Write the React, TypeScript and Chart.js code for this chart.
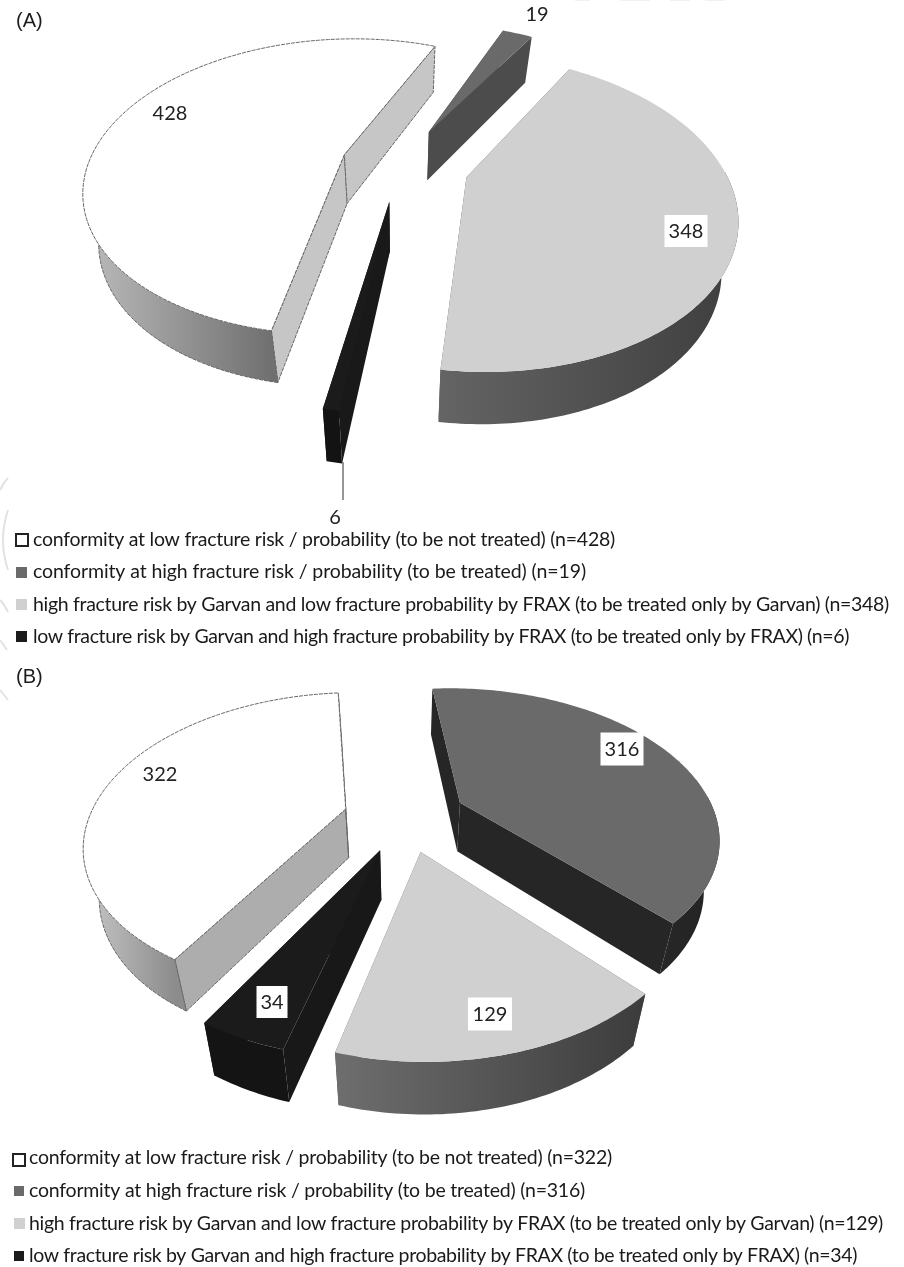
import React, { useEffect, useRef } from "react";
import { Chart, registerables } from "chart.js";

Chart.register(...registerables);

// Categories and counts for the two cohorts
const categoryNames = [
  "conformity at low fracture risk / probability (to be not treated)",
  "conformity at high fracture risk / probability (to be treated)",
  "high fracture risk by Garvan and low fracture probability by FRAX (to be treated only by Garvan)",
  "low fracture risk by Garvan and high fracture probability by FRAX (to be treated only by FRAX)",
];
const countsA = [428, 19, 348, 6];
const countsB = [322, 316, 129, 34];

// Slice surface colours, same order as the categories
const topColors = ["#ffffff", "#6a6a6a", "#d0d0d0", "#1b1b1b"];
const outlineColors = ["#666666", "", "", ""];

type Layout = {
  tag: string;
  tagY: number;
  top: number;
  height: number;
  rotation: number;
  center: [number, number];
  explode: number[];
  rimColors: [string, string][];
  wallColors: string[];
  valueLabels: { x: number; y: number; box?: [number, number] }[];
  leader?: { index: number; x: number; y1: number; y2: number };
  swatches: { x: number; y: number; w: number }[];
  legendX: number;
  legendEnds: number[];
  legendBaselines: number[];
  paperMarks: [number, number, number, number, number, number][];
};

// Perspective of the tilted pie, shared by both panels
const RX = 256;
const RY = 145;
const TILT = 0.22;
const DEPTH = 49;
const DEPTH_SLOPE = 3;
const FLOOR_SHRINK = 0.05;

const layoutA: Layout = {
  tag: "(A)",
  tagY: 27,
  top: 0,
  height: 650,
  rotation: 190.4,
  center: [400, 164],
  explode: [0.23, 0.26, 0.27, 0.25],
  rimColors: [
    ["#bcbcbc", "#707070"],
    ["#4c4c4c", "#4c4c4c"],
    ["#646464", "#3e3e3e"],
    ["#131313", "#131313"],
  ],
  wallColors: ["#c6c6c6", "#4c4c4c", "#555555", "#191919"],
  valueLabels: [
    { x: 170, y: 113 },
    { x: 537, y: 14 },
    { x: 686, y: 231, box: [43, 32] },
    { x: 335, y: 517 },
  ],
  leader: { index: 3, x: 343, y1: 462, y2: 500 },
  swatches: [
    { x: 16, y: 534, w: 12 },
    { x: 16, y: 567, w: 11 },
    { x: 16, y: 599, w: 11 },
    { x: 16, y: 631, w: 11 },
  ],
  legendX: 33,
  legendEnds: [615, 586, 889, 849],
  legendBaselines: [546, 578, 611, 643],
  paperMarks: [
    [8, 478, 4, 482, 0, 490],
    [8, 510, -2, 540, 8, 570],
    [0, 600, 4, 604, 8, 612],
    [0, 640, 4, 645, 8, 652],
    [575, -0.5, 582, -0.5, 590, -0.5],
    [620, -0.5, 635, -0.5, 650, -0.5],
    [670, -0.5, 680, -0.5, 690, -0.5],
    [705, -0.5, 715, -0.5, 725, -0.5],
  ],
};

const layoutB: Layout = {
  tag: "(B)",
  tagY: 33,
  top: 650,
  height: 617,
  rotation: 210.3,
  center: [405, 166.5],
  explode: [0.24, 0.24, 0.24, 0.24],
  rimColors: [
    ["#c8c8c8", "#8c8c8c"],
    ["#262626", "#232323"],
    ["#6e6e6e", "#3c3c3c"],
    ["#141414", "#141414"],
  ],
  wallColors: ["#adadad", "#262626", "#555555", "#181818"],
  valueLabels: [
    { x: 160, y: 124 },
    { x: 622, y: 99, box: [43, 33] },
    { x: 490, y: 364, box: [44, 33] },
    { x: 272, y: 352, box: [31, 32] },
  ],
  swatches: [
    { x: 13, y: 504, w: 12 },
    { x: 14, y: 536, w: 10 },
    { x: 14, y: 568, w: 11 },
    { x: 14, y: 601, w: 10 },
  ],
  legendX: 29,
  legendEnds: [612, 585, 883, 857],
  legendBaselines: [514, 547, 580, 612],
  paperMarks: [[0, 40, 4, 45, 8, 50]],
};

function makePie3d(cfg: Layout, values: number[]) {
  const [cx, cy] = cfg.center;

  // Maps a point of the unit disc onto the tilted top surface
  const surface = (u: number, v: number): [number, number] => {
    const w = 1 - TILT * v;
    return [cx + (RX * u) / w, cy + (RY * v) / w];
  };
  // Same point on the floor of the extruded pie
  const floor = (u: number, v: number): [number, number] => {
    const [x, y] = surface(u, v);
    return [cx + (x - cx) * (1 - FLOOR_SHRINK), y + DEPTH + DEPTH_SLOPE * v];
  };

  const trace = (ctx: CanvasRenderingContext2D, pts: [number, number][]) => {
    ctx.beginPath();
    pts.forEach(([x, y], i) => (i ? ctx.lineTo(x, y) : ctx.moveTo(x, y)));
  };

  return {
    id: "pie3d",
    beforeDatasetsDraw(chart: any) {
      // Faint marks along the page edges
      const ctx: CanvasRenderingContext2D = chart.ctx;
      ctx.save();
      ctx.strokeStyle = "#e2e2e2";
      ctx.lineWidth = 2;
      cfg.paperMarks.forEach(([x0, y0, x1, y1, x2, y2]) => {
        ctx.beginPath();
        ctx.moveTo(x0, y0);
        ctx.quadraticCurveTo(x1, y1, x2, y2);
        ctx.stroke();
      });
      ctx.restore();
    },
    beforeDatasetDraw(chart: any) {
      const ctx: CanvasRenderingContext2D = chart.ctx;
      const meta = chart.getDatasetMeta(0);
      meta.data.forEach((arc: any, i: number) => {
        const { startAngle, endAngle } = arc.getProps(["startAngle", "endAngle"], true);
        const mid = (startAngle + endAngle) / 2;
        const ax = Math.cos(mid) * cfg.explode[i];
        const ay = Math.sin(mid) * cfg.explode[i];

        const steps = Math.max(2, Math.ceil(((endAngle - startAngle) * 180) / Math.PI));
        const rim: [number, number][] = [];
        const rimFloor: [number, number][] = [];
        // Only the part of the outer wall turned towards the viewer gets painted
        const frontRim: [number, number][] = [];
        const frontFloor: [number, number][] = [];
        for (let s = 0; s <= steps; s++) {
          const a = startAngle + ((endAngle - startAngle) * s) / steps;
          const u = ax + Math.cos(a);
          const v = ay + Math.sin(a);
          const top = surface(u, v);
          const bottom = floor(u, v);
          rim.push(top);
          rimFloor.push(bottom);
          if (Math.sin(a) > -0.05) {
            frontRim.push(top);
            frontFloor.push(bottom);
          }
        }
        const apex = surface(ax, ay);
        const apexFloor = floor(ax, ay);
        const outline = outlineColors[i];

        const applyOutline = () => {
          ctx.strokeStyle = outline;
          ctx.lineWidth = 1;
          ctx.setLineDash([4, 1]);
          ctx.stroke();
          ctx.setLineDash([]);
        };

        // The two cut faces meeting at the apex
        [
          [rim[0], rimFloor[0]],
          [rim[rim.length - 1], rimFloor[rimFloor.length - 1]],
        ].forEach(([r, f]) => {
          trace(ctx, [apex, r, f, apexFloor]);
          ctx.closePath();
          ctx.fillStyle = cfg.wallColors[i];
          ctx.fill();
          if (outline) applyOutline();
        });

        // Outer wall, shaded left to right
        if (frontRim.length > 1) {
          const xs = frontRim.map((p) => p[0]);
          const grad = ctx.createLinearGradient(Math.min(...xs), 0, Math.max(...xs), 0);
          grad.addColorStop(0, cfg.rimColors[i][0]);
          grad.addColorStop(1, cfg.rimColors[i][1]);
          trace(ctx, [...frontRim, ...[...frontFloor].reverse()]);
          ctx.closePath();
          ctx.fillStyle = grad;
          ctx.fill();
          if (outline) {
            trace(ctx, frontFloor);
            applyOutline();
            trace(ctx, [rim[0], rimFloor[0]]);
            applyOutline();
          }
        }

        // Top surface
        trace(ctx, [apex, ...rim]);
        ctx.closePath();
        ctx.fillStyle = topColors[i];
        ctx.fill();
        if (outline) applyOutline();
      });
      return false;
    },
    afterDraw(chart: any) {
      const ctx: CanvasRenderingContext2D = chart.ctx;
      ctx.save();

      // Panel tag
      ctx.fillStyle = "#1c1c1c";
      ctx.font = '20px "Liberation Sans"';
      ctx.textAlign = "left";
      ctx.textBaseline = "alphabetic";
      ctx.fillText(cfg.tag, 16, cfg.tagY);

      // Leader line from a thin slice to its value
      if (cfg.leader) {
        ctx.strokeStyle = "#6a6a6a";
        ctx.lineWidth = 1.4;
        ctx.beginPath();
        ctx.moveTo(cfg.leader.x, cfg.leader.y1);
        ctx.lineTo(cfg.leader.x, cfg.leader.y2);
        ctx.stroke();
      }

      // Value labels
      ctx.font = "20px Lato";
      ctx.textAlign = "center";
      ctx.textBaseline = "middle";
      values.forEach((value, i) => {
        const lab = cfg.valueLabels[i];
        if (lab.box) {
          ctx.fillStyle = "#ffffff";
          ctx.fillRect(lab.x - lab.box[0] / 2, lab.y - lab.box[1] / 2, lab.box[0], lab.box[1]);
        }
        ctx.fillStyle = "#222222";
        ctx.fillText(String(value), lab.x, lab.y + 1);
      });

      // Legend rows: swatch plus text fitted to its row width
      ctx.textAlign = "left";
      ctx.textBaseline = "alphabetic";
      ctx.font = "19.5px Lato";
      categoryNames.forEach((name, i) => {
        const sw = cfg.swatches[i];
        if (outlineColors[i]) {
          ctx.fillStyle = "#ffffff";
          ctx.fillRect(sw.x, sw.y, sw.w, sw.w);
          ctx.strokeStyle = "#222222";
          ctx.lineWidth = 2;
          ctx.strokeRect(sw.x, sw.y, sw.w, sw.w);
        } else {
          ctx.fillStyle = topColors[i];
          ctx.fillRect(sw.x, sw.y, sw.w, sw.w);
        }
        const text = `${name} (n=${values[i]})`;
        (ctx as any).letterSpacing = "0px";
        const natural = ctx.measureText(text).width;
        const spacing = (cfg.legendEnds[i] - cfg.legendX - natural) / text.length;
        (ctx as any).letterSpacing = `${spacing}px`;
        ctx.fillStyle = "#1a1a1a";
        ctx.fillText(text, cfg.legendX, cfg.legendBaselines[i]);
        (ctx as any).letterSpacing = "0px";
      });
      ctx.restore();
    },
  };
}

function PiePanel({ cfg, values }: { cfg: Layout; values: number[] }) {
  const ref = useRef<HTMLCanvasElement>(null);
  useEffect(() => {
    const chart = new Chart(ref.current!, {
      type: "pie",
      data: {
        labels: categoryNames,
        datasets: [{ data: values, backgroundColor: topColors, borderWidth: 0 }],
      },
      options: {
        responsive: false,
        animation: false,
        rotation: cfg.rotation,
        events: [],
        plugins: { legend: { display: false }, tooltip: { enabled: false } },
      },
      plugins: [makePie3d(cfg, values)],
    } as any);
    return () => chart.destroy();
  }, []);
  return (
    <canvas
      ref={ref}
      width={904}
      height={cfg.height}
      style={{ position: "absolute", left: 0, top: cfg.top, width: 904, height: cfg.height }}
    />
  );
}

export default function App() {
  return (
    <div style={{ position: "absolute", left: 0, top: 0, width: 904, height: 1267, background: "#fff", overflow: "hidden" }}>
      <PiePanel cfg={layoutA} values={countsA} />
      <PiePanel cfg={layoutB} values={countsB} />
    </div>
  );
}
